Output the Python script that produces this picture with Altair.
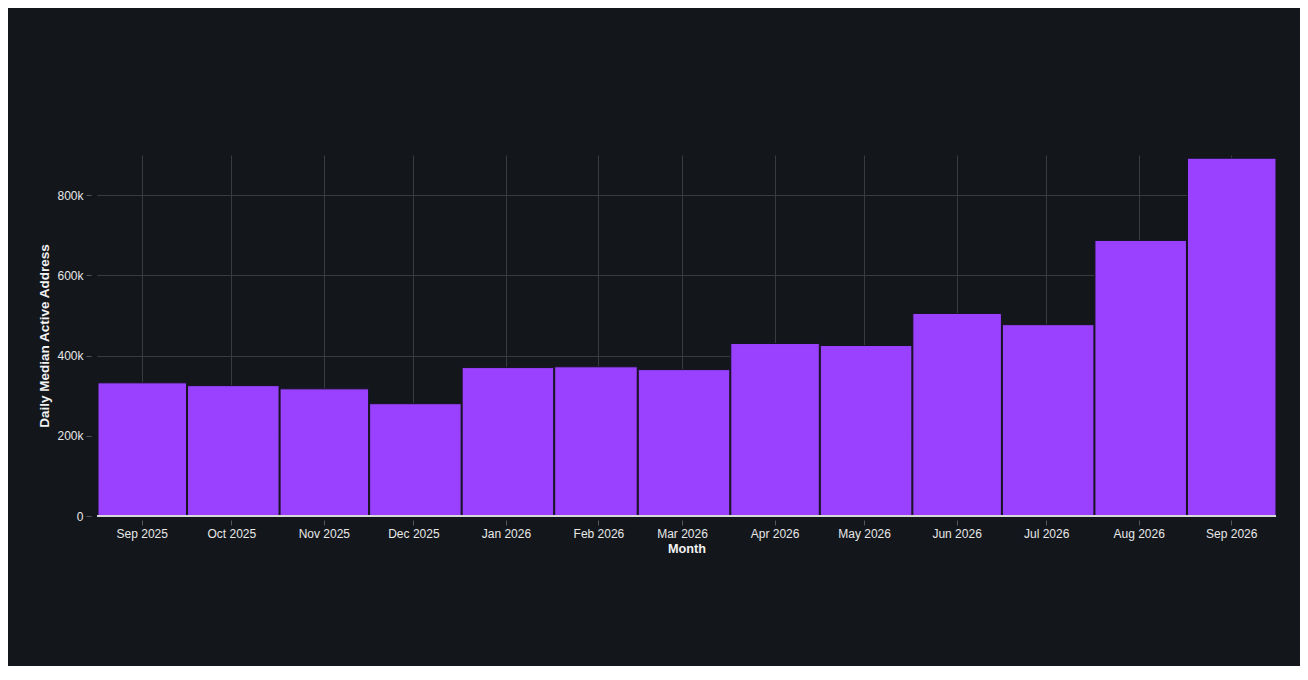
import altair as alt
import pandas as pd

months = ["2025-09-01", "2025-10-01", "2025-11-01", "2025-12-01", "2026-01-01",
          "2026-02-01", "2026-03-01", "2026-04-01", "2026-05-01", "2026-06-01",
          "2026-07-01", "2026-08-01", "2026-09-01"]
values = [332000, 325000, 317000, 280000, 370000, 372000, 365000,
          430000, 425000, 505000, 477000, 687000, 892000]
# axis ticks sit at mid-month (the 16th)
tick_year_month = [(2025, 9), (2025, 10), (2025, 11), (2025, 12), (2026, 1), (2026, 2),
                   (2026, 3), (2026, 4), (2026, 5), (2026, 6), (2026, 7), (2026, 8), (2026, 9)]

df = pd.DataFrame({"month": months, "value": values})
tick_values = [alt.DateTime(year=y, month=m, date=16) for y, m in tick_year_month]

bars = alt.Chart(df).mark_bar(color="#9a40ff", stroke="#15131f", strokeWidth=1).encode(
    x=alt.X("yearmonth(month):T", title="Month",
            axis=alt.Axis(format="%b %Y", labelAngle=0, values=tick_values,
                          domain=False, offset=4, labelPadding=3, titlePadding=3,
                          titleFontSize=12.7)),
    y=alt.Y("value:Q", title="Daily Median Active Address",
            scale=alt.Scale(domain=[0, 900000]),
            axis=alt.Axis(tickCount=5, domain=False, offset=6, labelPadding=3, titlePadding=5,
                          titleFontSize=13.5,
                          labelExpr="datum.value == 0 ? '0' : format(datum.value / 1000, '~') + 'k'")),
)

base_rule = alt.Chart(df).mark_rule(color="#d8d8d8", strokeWidth=1).encode(
    y=alt.datum(0)
)

chart = alt.layer(bars, base_rule).properties(
    width=1179, height=361,
    background="#13171c",
    autosize=alt.AutoSizeParams(type="none"),
    padding={"left": 89, "top": 147, "right": 24, "bottom": 150},
).configure_view(stroke=None).configure_axis(
    labelColor="#e8e8e8", titleColor="#f2f2f2", gridColor="#3a3b40",
    tickColor="#55585c",
    labelFont="Liberation Sans", titleFont="Liberation Sans",
    labelFontSize=12, labelFontWeight="normal",
)

chart.save("out.html", embed_options={"renderer": "svg", "actions": False})
